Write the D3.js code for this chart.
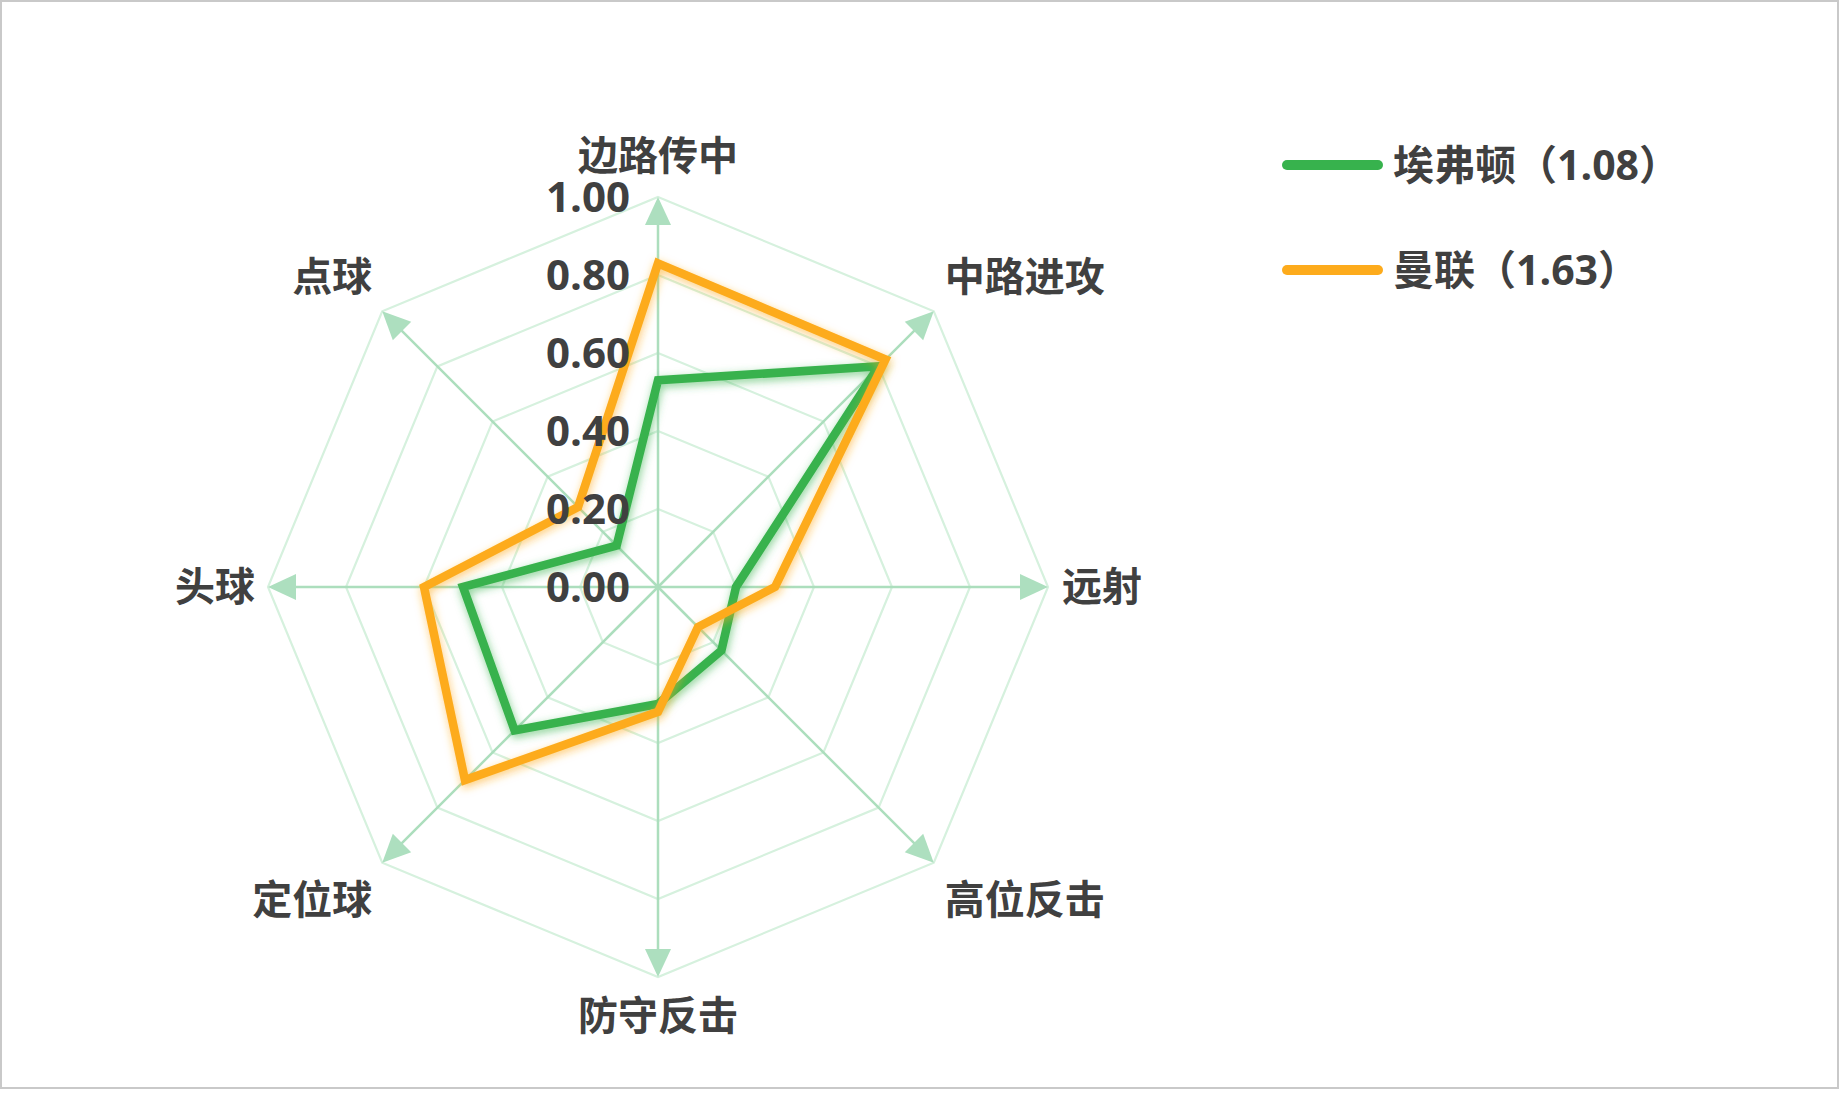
<!DOCTYPE html>
<html>
<head>
<meta charset="utf-8">
<script src="https://cdn.jsdelivr.net/npm/d3@7"></script>
<style>
  body { margin: 0; background: #fff; }
  text { font-family: "Open Sans", "Noto Sans CJK SC", sans-serif; font-weight: 700; fill: #404040; }
</style>
</head>
<body>
<script>
// chart data
var categories = ["边路传中", "中路进攻", "远射", "高位反击", "防守反击", "定位球", "头球", "点球"];
var seriesNames = ["埃弗顿（1.08）", "曼联（1.63）"];
var everton = [0.53, 0.80, 0.20, 0.23, 0.30, 0.52, 0.50, 0.15];
var manutd = [0.83, 0.825, 0.30, 0.145, 0.32, 0.70, 0.60, 0.29];
var tickValues = [0, 0.2, 0.4, 0.6, 0.8, 1.0];
var tickLabels = ["0.00", "0.20", "0.40", "0.60", "0.80", "1.00"];

var w = 1840, h = 1119;
var cx = 658, cy = 587, R = 390;
var colors = ["#37b24d", "#fdab1c"];

var svg = d3.select("body").append("svg")
    .attr("width", w)
    .attr("height", h);

// soft glow under the series lines
var defs = svg.append("defs");
colors.forEach(function(c, i) {
    var f = defs.append("filter").attr("id", "glow" + i)
        .attr("x", "-20%").attr("y", "-20%").attr("width", "140%").attr("height", "140%");
    f.append("feDropShadow")
        .attr("dx", 1).attr("dy", 3).attr("stdDeviation", 4)
        .attr("flood-color", c).attr("flood-opacity", 0.6);
});

// frame
svg.append("rect")
    .attr("x", 1).attr("y", 1)
    .attr("width", 1837).attr("height", 1087)
    .attr("fill", "none")
    .attr("stroke", "#c9c9c9")
    .attr("stroke-width", 2);

var r = d3.scaleLinear().domain([0, 1]).range([0, R]);
var n = categories.length;
var angle = function(i) { return i * 2 * Math.PI / n; };

var g = svg.append("g").attr("transform", "translate(" + cx + "," + cy + ")");

// rings
var ring = d3.lineRadial()
    .angle(function(d, i) { return angle(i); })
    .radius(function(d) { return r(d); })
    .curve(d3.curveLinearClosed);

g.selectAll(".ring")
    .data(tickValues.filter(function(t) { return t > 0; }))
    .enter().append("path")
    .attr("d", function(t) { return ring(categories.map(function() { return t; })); })
    .attr("fill", "none")
    .attr("stroke", "#d6f1de")
    .attr("stroke-width", 2.2);

// spokes with arrow heads
var arrowLen = 28, arrowHalf = 13;
categories.forEach(function(c, i) {
    var a = angle(i);
    var sx = Math.sin(a), sy = -Math.cos(a);
    var tip = r(1);
    g.append("line")
        .attr("x1", 0).attr("y1", 0)
        .attr("x2", sx * (tip - arrowLen + 2)).attr("y2", sy * (tip - arrowLen + 2))
        .attr("stroke", "#acdebd")
        .attr("stroke-width", 2.5);
    var bx = sx * (tip - arrowLen), by = sy * (tip - arrowLen);
    var px = -sy * arrowHalf, py = sx * arrowHalf;
    g.append("path")
        .attr("d", "M" + (sx * tip) + "," + (sy * tip) +
            "L" + (bx + px) + "," + (by + py) +
            "L" + (bx - px) + "," + (by - py) + "Z")
        .attr("fill", "#addfbf");
});

// series
var line = d3.lineRadial()
    .angle(function(d, i) { return angle(i); })
    .radius(function(d) { return r(d); })
    .curve(d3.curveLinearClosed);

[everton, manutd].forEach(function(data, i) {
    g.append("path")
        .attr("d", line(data))
        .attr("fill", "none")
        .attr("stroke", colors[i])
        .attr("stroke-width", 8.5)
        .attr("stroke-linejoin", "miter")
        .attr("filter", "url(#glow" + i + ")");
});

// radial tick labels
g.selectAll(".tick")
    .data(tickValues)
    .enter().append("text")
    .attr("x", -28)
    .attr("y", function(d) { return -r(d); })
    .attr("dy", "0.36em")
    .attr("text-anchor", "end")
    .style("font-size", "42px")
    .text(function(d, i) { return tickLabels[i]; });

// category labels
categories.forEach(function(c, i) {
    var a = angle(i);
    var sx = Math.round(Math.sin(a) * 1000) / 1000, sy = -Math.round(Math.cos(a) * 1000) / 1000;
    var tx = sx * r(1), ty = sy * r(1);
    var anchor = "middle", x = tx, y = ty;
    if (sx > 0) { anchor = "start"; x = tx + (sy === 0 ? 14 : 11); }
    if (sx < 0) { anchor = "end"; x = tx - (sy === 0 ? 13 : 10); }
    if (sy < 0) y = ty - (sx === 0 ? 41 : 35);
    if (sy > 0) y = ty + (sx === 0 ? 39 : 37);
    g.append("text")
        .attr("x", x).attr("y", y)
        .attr("dy", "0.36em")
        .attr("text-anchor", anchor)
        .style("font-size", "40px")
        .text(c);
});

// legend
var legend = svg.append("g");
seriesNames.forEach(function(name, i) {
    var y = 165 + i * 105;
    legend.append("line")
        .attr("x1", 1287).attr("x2", 1378)
        .attr("y1", y).attr("y2", y)
        .attr("stroke", colors[i])
        .attr("stroke-width", 10)
        .attr("stroke-linecap", "round");
    legend.append("text")
        .attr("x", 1393).attr("y", y)
        .attr("dy", "0.36em")
        .style("font-size", "41px")
        .text(name);
});
</script>
</body>
</html>
